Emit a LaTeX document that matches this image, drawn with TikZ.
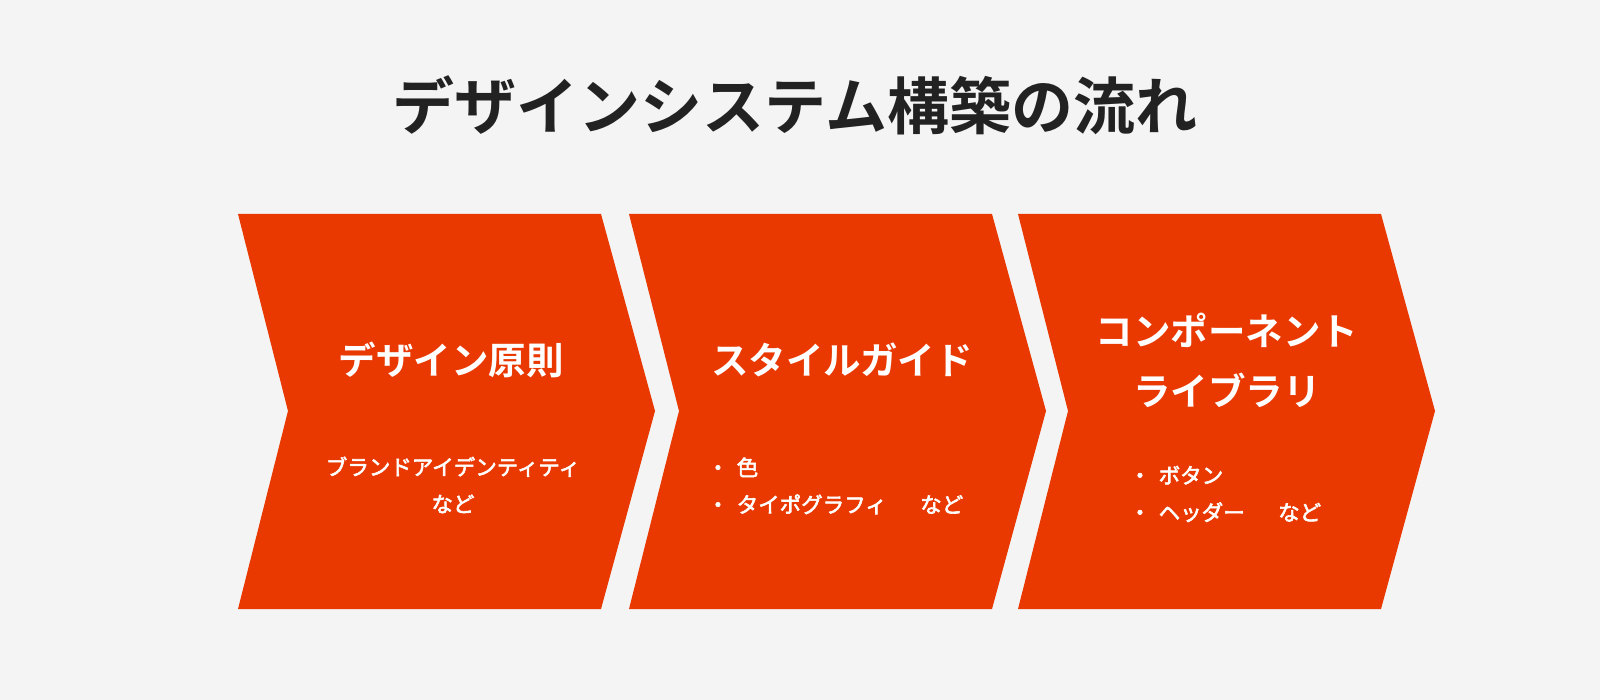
\documentclass[tikz,border=0pt]{standalone}
\usepackage{fontspec}
\newfontfamily\jpfont{Noto Sans CJK JP}[BoldFont={Noto Sans CJK JP Bold}]
\newfontfamily\jpmedium{Noto Sans CJK JP}[FakeBold=2.6]
\usepackage{tikz}
\definecolor{bggray}{HTML}{F4F4F4}
\definecolor{flowred}{HTML}{E93800}
\definecolor{inkblack}{HTML}{222222}
\tikzset{
	headtext/.style={text=white, font=\jpfont\bfseries\fontsize{37.5}{60}\selectfont, align=center, inner sep=0pt},
	subtext/.style={text=white, font=\jpmedium\fontsize{21.5}{37}\selectfont, inner sep=0pt},
}
\def\chevron(#1){\fill[flowred] (#1,214) -- ++(363,0) -- ++(54,197) -- ++(-54,198) -- ++(-363,0) -- ++(50,-198) -- cycle;}

\begin{document}
\begin{tikzpicture}[x=1pt, y=-1pt]
		%%%%% START %%%%%
		
		\fill[bggray] (0,0) rectangle (1600,700);
		\useasboundingbox (0,0) rectangle (1600,700);
		
		\node[text=inkblack, font=\jpfont\bfseries\fontsize{62}{70}\selectfont, inner sep=0pt] (title) at (795,105) {デザインシステム構築の流れ};
		
		\foreach \xo in {238, 629, 1018}
			\chevron(\xo);
		
		\node[headtext] (principle) at (451,360) {デザイン原則};
		\node[subtext, align=center] (principlesub) at (453,485) {ブランドアイデンティティ\\など};
		
		\node[headtext] (styleguide) at (842,360) {スタイルガイド};
		\node[subtext, align=left, anchor=west] (styleguidesub) at (707,486) {・\hspace{8pt}色\\・\hspace{8pt}タイポグラフィ　\hspace{12pt}など};
		
		\node[headtext] (library) at (1227,360) {コンポーネント\\ライブラリ};
		\node[subtext, align=left, anchor=west] (librarysub) at (1129,494) {・\hspace{8pt}ボタン\\・\hspace{8pt}ヘッダー　\hspace{12pt}など};
		
		%%%%% END %%%%%
\end{tikzpicture}
\end{document}
